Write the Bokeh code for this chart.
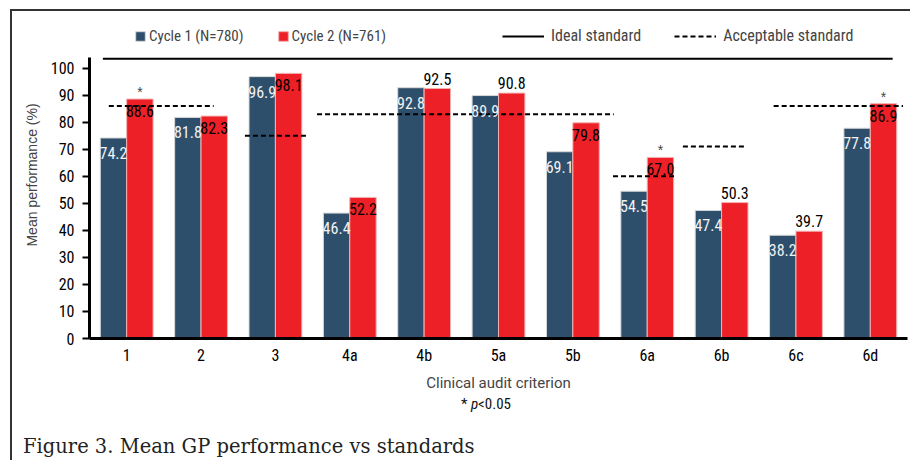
from bokeh.plotting import figure
from bokeh.models import Range1d, FixedTicker, Legend, LegendItem, Div
from bokeh.layouts import column
from bokeh.core.properties import value
from bokeh.embed import file_html
from bokeh.resources import INLINE

# ---------------- data ----------------
criteria = ["1", "2", "3", "4a", "4b", "5a", "5b", "6a", "6b", "6c", "6d"]
cycle1 = [74.2, 81.8, 96.9, 46.4, 92.8, 89.9, 69.1, 54.5, 47.4, 38.2, 77.8]
cycle2 = [88.6, 82.3, 98.1, 52.2, 92.5, 90.8, 79.8, 67.0, 50.3, 39.7, 86.9]
significant = ["1", "6a", "6d"]                 # * p<0.05
cycle2_label_outside = ["4b", "5a", "6b", "6c"]  # labels printed above the bar

ideal_standard = 103.5
ideal_from, ideal_to = 0.18, 10.8               # criterion-index units
acceptable_standard = [86, 75, 83, 60, 71, 86]
acceptable_from = [0.26, 2.09, 3.06, 7.04, 7.98, 9.2]
acceptable_to = [1.67, 2.95, 7.05, 7.9, 8.84, 10.94]

caption = "Figure 3. Mean GP performance vs standards"

# ---------------- style ----------------
NARROW = "Roboto Condensed"
BLUE = "#2e4f6c"
RED = "#ed2027"
BORDER = "2px solid #333333"

n = len(criteria)
centers = [i + 0.5 for i in range(n)]
bw = 0.355
x1 = [c - bw / 2 for c in centers]
x2 = [c + bw / 2 for c in centers]

p = figure(width=900, height=385, x_range=Range1d(0, 11), y_range=Range1d(0, 121),
           output_backend="svg", toolbar_location=None,
           min_border_left=77, min_border_right=5, min_border_top=0, min_border_bottom=58)
p.margin = (9, 0, 0, 10)
p.styles = {"border-top": BORDER, "border-left": BORDER}
p.outline_line_color = None
p.xgrid.grid_line_color = None
p.ygrid.grid_line_color = None

r1 = p.vbar(x=x1, top=cycle1, width=bw, bottom=0, fill_color=BLUE, line_color="#d8d8d8", line_width=1)
r2 = p.vbar(x=x2, top=cycle2, width=bw, bottom=0, fill_color=RED, line_color="#f3b0b0", line_width=1)

r_ideal = p.segment(x0=[ideal_from], x1=[ideal_to], y0=[ideal_standard], y1=[ideal_standard],
                    line_color="black", line_width=2)
r_acc = p.segment(x0=acceptable_from, x1=acceptable_to, y0=acceptable_standard, y1=acceptable_standard,
                  line_color="black", line_width=2, line_dash="5 3")

p.text(x=x1, y=cycle1, text=[f"{v:.1f}" for v in cycle1], text_align="center", text_baseline="middle",
       y_offset=15, text_color="#f2f2f2", text_font=value(NARROW), text_font_size="16px")
in_x, in_y, in_t, out_x, out_y, out_t = [], [], [], [], [], []
for c, xx, v in zip(criteria, x2, cycle2):
    if c in cycle2_label_outside:
        out_x.append(xx); out_y.append(v); out_t.append(f"{v:.1f}")
    else:
        in_x.append(xx); in_y.append(v); in_t.append(f"{v:.1f}")
p.text(x=in_x, y=in_y, text=in_t, text_align="center", text_baseline="middle",
       y_offset=12, text_color="black", text_font=value(NARROW), text_font_size="16px")
p.text(x=out_x, y=out_y, text=out_t, text_align="center", text_baseline="middle",
       y_offset=-10, text_color="black", text_font=value(NARROW), text_font_size="16px")

sx = [xx for c, xx in zip(criteria, x2) if c in significant]
sy = [v for c, v in zip(criteria, cycle2) if c in significant]
p.text(x=sx, y=sy, text=["*"] * len(sx), text_align="center", text_baseline="middle",
       y_offset=-7, text_color="#444444", text_font=value("Liberation Sans"), text_font_size="14px")

p.yaxis.ticker = FixedTicker(ticks=list(range(0, 101, 10)))
p.yaxis.bounds = (0, 104)
p.yaxis.axis_line_width = 3
p.yaxis.major_tick_out = 7
p.yaxis.major_tick_in = 0
p.yaxis.major_tick_line_width = 2
p.yaxis.minor_tick_line_color = None
p.yaxis.major_label_text_font = NARROW
p.yaxis.major_label_text_font_size = "16px"
p.yaxis.major_label_text_color = "black"
p.yaxis.major_label_standoff = 8
p.yaxis.axis_label = "Mean performance (%)"
p.yaxis.axis_label_text_font = "Liberation Sans"
p.yaxis.axis_label_text_font_size = "14px"
p.yaxis.axis_label_text_font_style = "normal"
p.yaxis.axis_label_standoff = 8

p.xaxis.ticker = FixedTicker(ticks=centers)
p.xaxis.major_label_overrides = {c: name for c, name in zip(centers, criteria)}
p.xaxis.axis_line_width = 3
p.xaxis.major_tick_out = 0
p.xaxis.major_tick_in = 0
p.xaxis.major_tick_line_color = None
p.xaxis.minor_tick_line_color = None
p.xaxis.major_label_text_font = NARROW
p.xaxis.major_label_text_font_size = "16px"
p.xaxis.major_label_text_color = "black"
p.xaxis.major_label_standoff = 7
p.xaxis.axis_label = "Clinical audit criterion"
p.xaxis.axis_label_text_font = "Roboto"
p.xaxis.axis_label_text_font_size = "15px"
p.xaxis.axis_label_text_font_style = "normal"
p.xaxis.axis_label_standoff = 6

leg1 = Legend(items=[LegendItem(label="Cycle 1 (N=780)", renderers=[r1]),
                     LegendItem(label="Cycle 2 (N=761)", renderers=[r2])],
              orientation="horizontal", location=(45, 293), padding=0, margin=0,
              spacing=33, glyph_width=12, glyph_height=12, label_standoff=3,
              label_text_font=NARROW, label_text_font_size="15px",
              border_line_color=None, background_fill_alpha=0)
leg2 = Legend(items=[LegendItem(label="Ideal standard", renderers=[r_ideal]),
                     LegendItem(label="Acceptable standard", renderers=[r_acc])],
              orientation="horizontal", location=(413, 293), padding=0, margin=0,
              spacing=33, glyph_width=42, glyph_height=12, label_standoff=7,
              label_text_font=NARROW, label_text_font_size="16px",
              border_line_color=None, background_fill_alpha=0)
p.add_layout(leg1)
p.add_layout(leg2)

footer_html = (
    '<div style="position:relative;width:888px;height:66px;">'
    '<div style="position:absolute;left:449px;top:1px;font-family:\'Roboto Condensed\';'
    'font-size:15px;line-height:18px;color:#111;white-space:nowrap;">* <i>p</i>&lt;0.05</div>'
    '<div style="position:absolute;left:11px;top:41px;font-family:\'DejaVu Serif\';'
    'font-size:19.5px;line-height:24px;color:#222;white-space:nowrap;">' + caption + '</div>'
    '</div>'
)
footer = Div(text=footer_html, width=888, height=66, margin=(0, 0, 0, 10),
             styles={"border-left": BORDER})

layout = column(p, footer, spacing=0)
open("out.html", "w").write(file_html(layout, INLINE))
